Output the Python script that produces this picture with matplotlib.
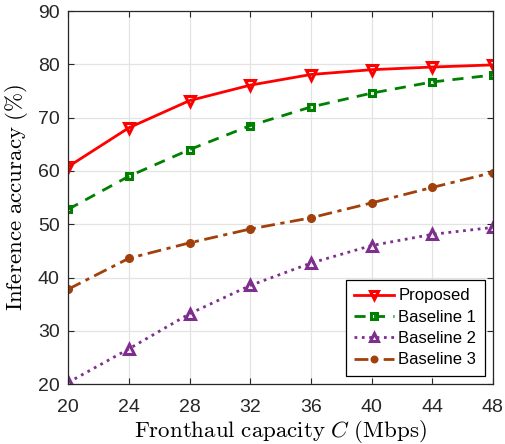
import matplotlib
matplotlib.use("Agg")
import matplotlib.pyplot as plt

capacity = [20, 24, 28, 32, 36, 40, 44, 48]
proposed = [60.8, 68.1, 73.2, 76.1, 78.1, 79.0, 79.5, 79.9]
baseline1 = [52.8, 59.0, 64.0, 68.5, 72.0, 74.6, 76.7, 78.0]
baseline2 = [20.3, 26.6, 33.2, 38.5, 42.7, 46.0, 48.1, 49.4]
baseline3 = [37.8, 43.6, 46.5, 49.1, 51.2, 54.0, 56.9, 59.7]
yticks = [20, 30, 40, 50, 60, 70, 80, 90]

plt.rcParams['font.family'] = ['Liberation Sans', 'DejaVu Sans']
plt.rcParams['mathtext.fontset'] = 'cm'

fig = plt.figure(figsize=(5.05, 4.44), dpi=100)
ax = fig.add_axes([0.135, 0.135, 0.841, 0.84])

ax.plot(capacity, proposed, '-', color='#ff0000', lw=2, marker='v', ms=7.5,
        mfc='none', mew=2.2, label='Proposed')
ax.plot(capacity, baseline1, '--', color='#008000', lw=2, marker='s', ms=5,
        mfc='none', mew=2.2, label='Baseline 1', dashes=(4, 3))
ax.plot(capacity, baseline2, ':', color='#7e2f8e', lw=2, marker='^', ms=7.5,
        mfc='none', mew=2.2, label='Baseline 2')
ax.plot(capacity, baseline3, '-.', color='#a2400c', lw=2, marker='o', ms=5.5,
        mfc='#a2400c', mew=1, label='Baseline 3', dashes=(5, 2, 1.5, 2))

ax.set_xlim(20, 48)
ax.set_ylim(20, 90)
ax.set_xticks(capacity)
ax.set_yticks(yticks)
ax.tick_params(direction='in', labelsize=14, length=4, top=True, right=True,
               colors='#262626')
ax.tick_params(axis='x', pad=11)
ax.tick_params(axis='y', pad=6)
ax.grid(True, color='#e3e3e3', lw=0.9)
ax.set_axisbelow(True)
for s in ax.spines.values():
    s.set_color('#262626')
    s.set_linewidth(0.9)

ax.set_xlabel(r'$\mathrm{Fronthaul\ capacity\ }C\mathrm{\ (Mbps)}$', fontsize=16.5, labelpad=1)
ax.set_ylabel(r'$\mathrm{Inference\ accuracy\ (\%)}$', fontsize=16.5, labelpad=6)

leg = ax.legend(loc='lower right', fontsize=12, frameon=True, fancybox=False,
                edgecolor='black', framealpha=1, handlelength=2.4,
                borderpad=0.5, labelspacing=0.38, handletextpad=0.25,
                borderaxespad=0.5, markerscale=0.85)
leg.get_frame().set_linewidth(0.9)

fig.savefig('out.png', dpi=100)
